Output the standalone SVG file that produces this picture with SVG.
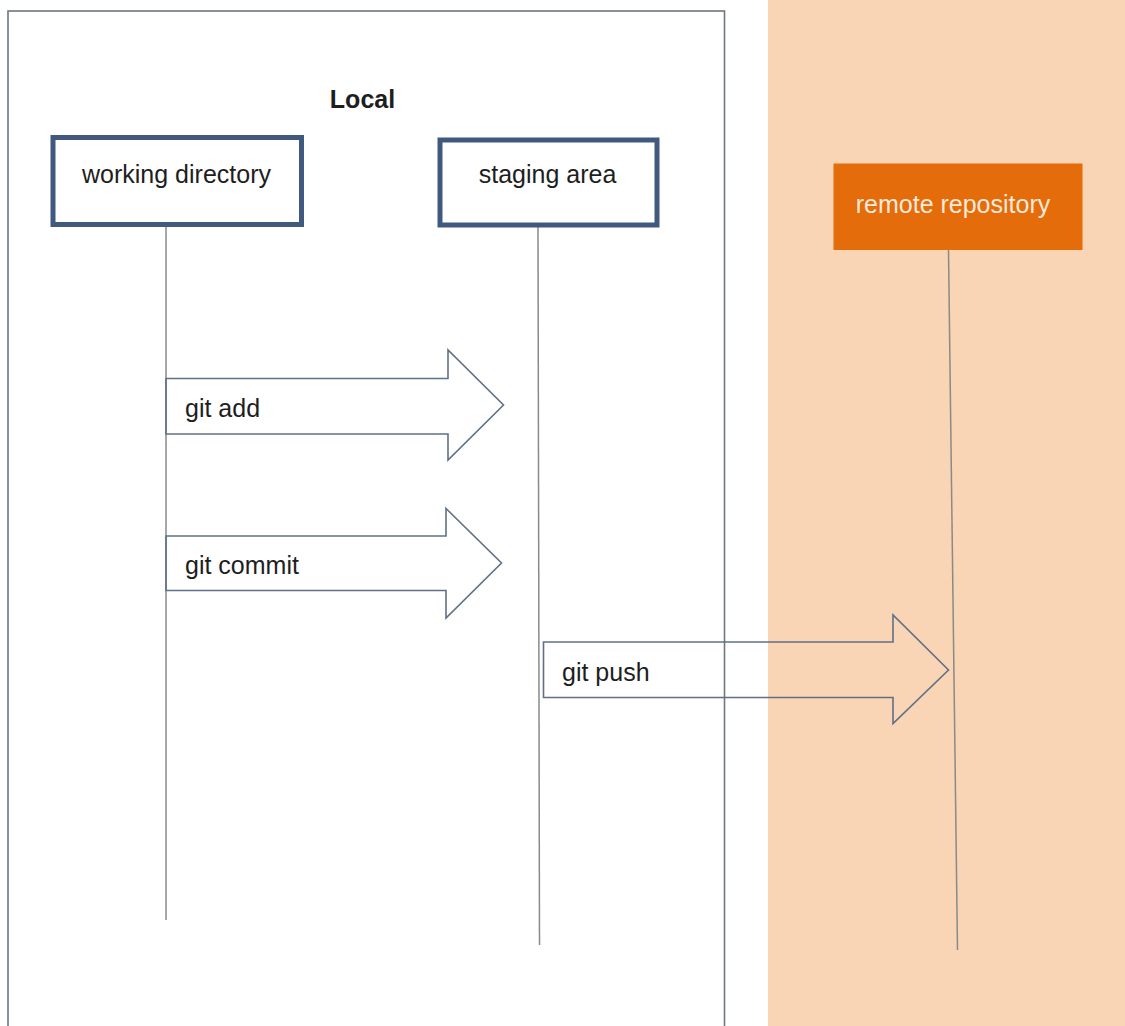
<svg xmlns="http://www.w3.org/2000/svg" width="1125" height="1026" viewBox="0 0 1125 1026">
<style>
.lbl{font-family:"Liberation Sans",Arial,sans-serif;font-size:25px;fill:#1e1e1e}
.box{fill:#fff;stroke:#41597f;stroke-width:5}
.life{stroke:#8a8a8a;stroke-width:1.5;fill:none}
.arrow{fill:none;stroke:#5f7187;stroke-width:1.6;stroke-linejoin:miter}
</style>
<rect x="0" y="0" width="1125" height="1026" fill="#ffffff"/>
<g id="remote-zone">
<rect x="768" y="0" width="357" height="1026" fill="#f9d4b5"/>
</g>
<g id="local-frame">
<rect x="8" y="11" width="716.5" height="1030" fill="none" stroke="#6e767e" stroke-width="1.6"/>
<text x="362.5" y="108" text-anchor="middle" class="lbl" style="font-weight:bold">Local</text>
</g>
<g id="connectors">
<line class="life" x1="166" y1="227" x2="166" y2="920"/>
<line class="life" x1="538" y1="227" x2="539.5" y2="945"/>
<line class="life" x1="948.5" y1="250" x2="957.5" y2="950"/>
<g id="git-add">
<path class="arrow" d="M166,378.5 H448 V350 L503.5,405 L448,460 V434 H166 Z"/>
<text class="lbl" x="185" y="417">git add</text>
</g>
<g id="git-commit">
<path class="arrow" d="M166,536 H446 V508.5 L501.5,563 L446,618 V590.5 H166 Z"/>
<text class="lbl" x="185" y="574">git commit</text>
</g>
<g id="git-push">
<path class="arrow" d="M543.5,642 H893 V615 L948.5,670 L893,723.5 V697.5 H543.5 Z"/>
<text class="lbl" x="562" y="681">git push</text>
</g>
</g>
<g id="working-directory">
<rect class="box" x="53" y="137.5" width="248.5" height="87"/>
<text class="lbl" x="176.5" y="183" text-anchor="middle">working directory</text>
</g>
<g id="staging-area">
<rect class="box" x="440" y="140" width="217" height="85"/>
<text class="lbl" x="547.5" y="183" text-anchor="middle">staging area</text>
</g>
<g id="remote-repository">
<rect x="833.5" y="163.5" width="249" height="86.5" fill="#e46c0a"/>
<text class="lbl" x="953" y="213" text-anchor="middle" style="fill:#fde9d9">remote repository</text>
</g>
</svg>
